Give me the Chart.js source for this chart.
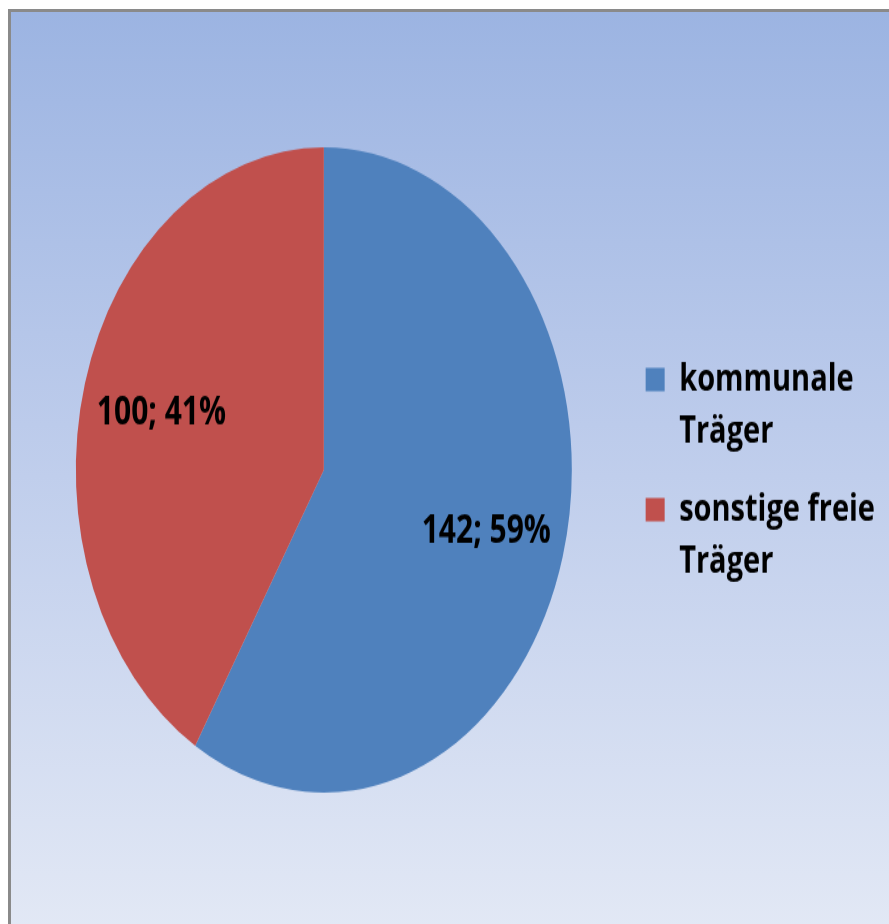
<!DOCTYPE html>
<html>
<head>
<meta charset="utf-8">
<script src="https://cdn.jsdelivr.net/npm/chart.js@4.4.1/dist/chart.umd.min.js"></script>
<style>
  html, body { margin: 0; padding: 0; background: #fff; }
  #frame {
    position: absolute; left: 8px; top: 9px;
    width: 881px; height: 915px;
    border-top: 3px solid #8a8a8a; border-left: 3px solid #8a8a8a;
    background: linear-gradient(to bottom, #9cb4e2 0%, #bccbeb 45%, #e2e8f5 100%);
    overflow: hidden;
  }
  #stretch {
    position: absolute; left: 0; top: 0;
    width: 878px; height: 701px;
    transform-origin: 0 0;
    transform: scaleY(1.301);
  }
</style>
</head>
<body>
<div id="frame">
  <div id="stretch"><canvas id="myChart" width="878" height="701"></canvas></div>
</div>
<script>
/*-------------------------
Daten
--------------------------*/
var labels = [["kommunale", "Träger"], ["sonstige freie", "Träger"]];
var values = [142, 100];
var colors = ["#4f81bd", "#c0504d"];

// Beschriftung "Wert; Prozent" in den Segmenten
var sliceLabels = {
  id: 'sliceLabels',
  afterDatasetsDraw: function (chart) {
    var ctx = chart.ctx;
    var total = values.reduce(function (a, b) { return a + b; }, 0);
    ctx.save();
    ctx.font = "bold 30px 'Open Sans'";
    ctx.fillStyle = "#000";
    ctx.textAlign = "center";
    ctx.textBaseline = "middle";
    chart.getDatasetMeta(0).data.forEach(function (arc, i) {
      var mid = (arc.startAngle + arc.endAngle) / 2;
      var r = arc.outerRadius * 0.68;
      var txt = values[i] + "; " + Math.round(values[i] / total * 100) + "%";
      ctx.fillText(txt, arc.x + Math.cos(mid) * r, arc.y + 2 + Math.sin(mid) * r);
    });
    ctx.restore();
  }
};

var ctx = document.getElementById("myChart").getContext('2d');
var myChart = new Chart(ctx, {
  type: 'pie',
  data: {
    labels: labels,
    datasets: [{
      backgroundColor: colors,
      data: values,
      borderWidth: 0
    }]
  },
  options: {
    responsive: false,
    devicePixelRatio: 1,
    animation: false,
    layout: { padding: { left: 11, right: 4, top: 104, bottom: 101 } },
    plugins: {
      tooltip: { enabled: false },
      legend: {
        position: 'right',
        title: { display: true, text: '', padding: 0, font: { size: 10, lineHeight: 1.2 } },
        labels: {
          boxWidth: 19,
          boxHeight: 18,
          padding: 20,
          color: "#000",
          font: { family: "'Open Sans'", size: 29, weight: 'bold', lineHeight: 1.38 }
        }
      }
    }
  },
  plugins: [sliceLabels]
});
</script>
</body>
</html>
